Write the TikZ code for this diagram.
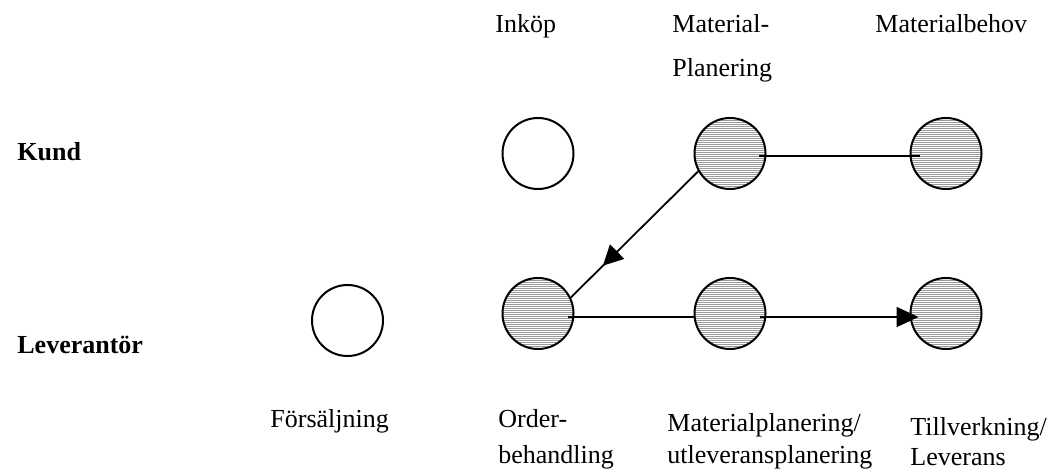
\documentclass[tikz,border=0pt]{standalone}
\usepackage{fontspec}
\setmainfont{Liberation Serif}
\usetikzlibrary{arrows.meta, patterns.meta, decorations.markings}

\tikzset{
  stat/.style={circle, draw, line width=1pt, minimum size=35.5pt, inner sep=0pt},
  aktiv/.style={stat, pattern={Lines[angle=0, distance=1pt, line width=0.35pt]}, pattern color=gray!80},
  etikett/.style={anchor=base west, inner sep=0pt, font=\fontsize{13}{15.6}\selectfont},
  roll/.style={etikett, font=\fontsize{13}{15.6}\selectfont\bfseries},
  flode/.style={line width=0.9pt},
  pil/.style={-{Triangle[length=11pt, width=10pt]}},
}

\begin{document}
\begin{tikzpicture}[x=0.5pt, y=-0.5pt]
        \useasboundingbox (0,0) rectangle (1053,470);

        % roller
        \node[roll] (kund) at (17,161) {Kund};
        \node[roll] (lev) at (17,353) {Leverantör};

        % kund
        \node[stat] (inkop) at (538,153.5) {};
        \node[aktiv] (mp) at (730,153.5) {};
        \node[aktiv] (mb) at (946,153.5) {};

        % leverantör
        \node[stat] (fs) at (347.5,320.5) {};
        \node[aktiv] (ob) at (538,313.5) {};
        \node[aktiv] (mu) at (730,313.5) {};
        \node[aktiv] (tl) at (946,313.5) {};

        % flöden
        \draw[flode, shorten <=-3.5pt, shorten >=-5.25pt] ([yshift=-1.25pt]mp.east) -- ([yshift=-1.25pt]mb.west);
        \draw[flode, postaction={decorate},
              decoration={markings, mark=at position 0.75 with {\arrow{Triangle[length=10pt, width=10pt]}}}]
              (mp.209.5) -- (ob.26.6);
        \draw[flode, shorten <=-3.5pt] ([yshift=-1.75pt]ob.east) -- ([yshift=-1.75pt]mu.west);
        \draw[flode, pil, shorten <=-3.5pt, shorten >=-4.5pt] ([yshift=-1.75pt]mu.east) -- ([yshift=-1.75pt]tl.west);

        % texter
        \node[etikett] (inkop-txt) at (495,33) {Inköp};
        \node[etikett] (mp-txt1) at (672,33) {Material-};
        \node[etikett] (mp-txt2) at (672,77) {Planering};
        \node[etikett] (mb-txt) at (875,33) {Materialbehov};
        \node[etikett] (fs-txt) at (270,427) {Försäljning};
        \node[etikett] (ob-txt1) at (498,427) {Order-};
        \node[etikett] (ob-txt2) at (498,463) {behandling};
        \node[etikett] (mu-txt1) at (667,431) {Materialplanering/};
        \node[etikett] (mu-txt2) at (667,463) {utleveransplanering};
        \node[etikett] (tl-txt1) at (910,435) {Tillverkning/};
        \node[etikett] (tl-txt2) at (910,465) {Leverans};
    \end{tikzpicture}
\end{document}
